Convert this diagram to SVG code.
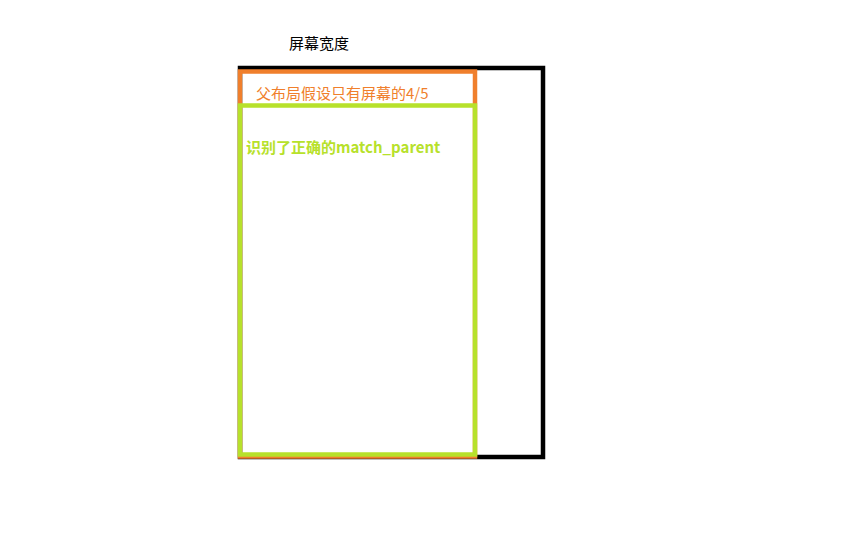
<svg xmlns="http://www.w3.org/2000/svg" width="864" height="540" viewBox="0 0 864 540">
<style>
text{font-family:"Microsoft YaHei","Noto Sans CJK SC",sans-serif;font-size:15px}
.box{fill:none}
</style>
<rect width="864" height="540" fill="#fff"/>
<g id="screen">
<rect class="box" x="240" y="68" width="303" height="389" stroke="#000" stroke-width="4.5"/>
<text x="289" y="49" fill="#000">屏幕宽度</text>
</g>
<g id="parent">
<rect class="box" x="240" y="71.5" width="235" height="385" stroke="#f07f2c" stroke-width="4.5"/>
<text x="256" y="99" fill="#f07f2c">父布局假设只有屏幕的4/5</text>
</g>
<g id="child">
<rect class="box" x="240" y="105.5" width="235" height="349" stroke="#b7e12b" stroke-width="4.5"/>
<text x="246" y="153" fill="#b7e12b" font-weight="bold">识别了正确的match_parent</text>
</g>
<g id="connectors"/>
</svg>
